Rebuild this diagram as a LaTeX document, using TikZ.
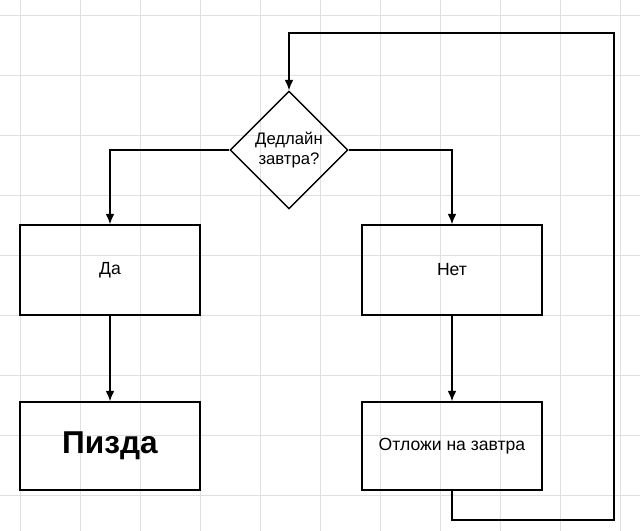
\documentclass[tikz,border=0pt]{standalone}
\usepackage{fontspec}
\setmainfont{Liberation Sans}
\usetikzlibrary{shapes.geometric,arrows.meta}
\tikzset{
  box/.style={draw, thick, minimum width=3.6cm, minimum height=1.8cm, font=\fontsize{10}{12}\selectfont},
  flow/.style={-{Latex[length=6pt,width=5pt]}, thick}
}
\begin{document}
\begin{tikzpicture}[x=0.02cm, y=-0.02cm]
\useasboundingbox (0,0) rectangle (640,531);
\fill[white] (0,0) rectangle (640,531);
% grid
\foreach \x in {20,80,...,620}
{
    \draw[black!12] (\x,0)--(\x,531);
}
\foreach \y in {15,75,...,515}
{
    \draw[black!12] (0,\y)--(640,\y);
}
\node[draw, thick, diamond, minimum width=2.36cm, minimum height=2.36cm, inner sep=0pt, align=center, font=\fontsize{9.5}{11}\selectfont] (q) at (289,150) {Дедлайн\\завтра?};
\node[box] (yes) at (110,270) {Да};
\node[box] (no) at (452,270) {Нет};
\node[box, minimum height=1.76cm, font=\fontsize{18}{21}\selectfont\bfseries] (bad) at (110,446) {Пизда};
\node[box, minimum height=1.76cm] (later) at (452,446) {Отложи на завтра};
\coordinate (c1) at (452,520);
\coordinate (c2) at (614,520);
\coordinate (c3) at (614,33);
\coordinate (c4) at (289,33);
\draw[flow] (q.west) -| (yes.north);
\draw[flow] (q.east) -| (no.north);
\draw[flow] (yes) -- (bad);
\draw[flow] (no) -- (later);
\draw[flow] (later.south) -- (c1) -- (c2) -- (c3) -- (c4) -- (q.north);
\end{tikzpicture}
\end{document}
